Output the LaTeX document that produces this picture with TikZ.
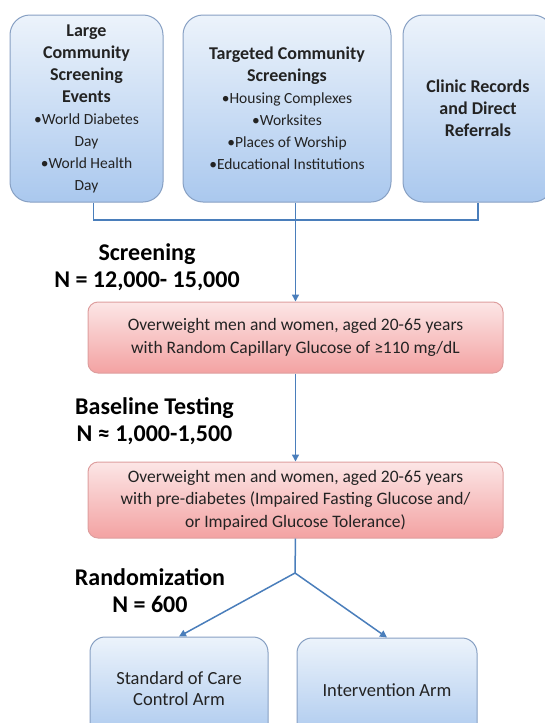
\documentclass[tikz,border=0pt]{standalone}
\usepackage{fontspec}
\setmainfont{Carlito}
\usetikzlibrary{arrows.meta}

\definecolor{blautop}{RGB}{236, 243, 251}
\definecolor{blaubottom}{RGB}{170, 200, 238}
\definecolor{blaurand}{RGB}{135, 160, 195}
\definecolor{rosatop}{RGB}{252, 230, 230}
\definecolor{rosabottom}{RGB}{243, 162, 162}
\definecolor{rosarand}{RGB}{222, 158, 158}
\definecolor{linienblau}{RGB}{74, 126, 187}
\definecolor{textgrau}{RGB}{35, 35, 35}

\tikzset{
	quelle/.style={draw=blaurand, line width=1pt, top color=blautop, bottom color=blaubottom, rounded corners=20pt, align=center, text=textgrau, inner sep=0pt, font=\bfseries\fontsize{18}{22}\selectfont},
	arm/.style={quelle, rounded corners=15pt, font=\mdseries\fontsize{18.5}{21}\selectfont},
	stufe/.style={draw=rosarand, line width=1pt, top color=rosatop, bottom color=rosabottom, rounded corners=10pt, align=center, text=textgrau, inner sep=0pt, minimum width=415pt, font=\fontsize{17.5}{22.5}\selectfont},
	etikett/.style={align=center, text=black, font=\bfseries\fontsize{24}{27}\selectfont},
	verbinder/.style={draw=linienblau, line width=1.5pt},
	pfeil/.style={verbinder, -{Triangle[length=7pt, width=7pt]}}
}

% Aufzaehlungszeile in den Quellen (normal, etwas kleiner)
\newcommand{\punkt}[1]{{\mdseries\fontsize{15.5}{22}\selectfont •#1}}
\newcommand{\weiter}[1]{{\mdseries\fontsize{15.5}{22}\selectfont #1}}

\begin{document}
\begin{tikzpicture}[x=1pt, y=-1pt] % 1 Einheit = 1 Pixel der Vorlage, y zeigt nach unten
		
		% Seitenrahmen
		\useasboundingbox (0,0) rectangle (545,723);
		
		% Die drei Quellen oben
		\node[quelle, minimum width=153pt, minimum height=187pt] (grossevents) at (86.5,108.5) {Large\\Community\\Screening\\Events\\\punkt{World Diabetes}\\\weiter{Day}\\\punkt{World Health}\\\weiter{Day}};
		\node[quelle, minimum width=208pt, minimum height=187pt] (gezielt) at (287,108.5) {Targeted Community\\Screenings\\\punkt{Housing Complexes}\\\punkt{Worksites}\\\punkt{Places of Worship}\\\punkt{Educational Institutions}};
		\node[quelle, minimum width=150pt, minimum height=187pt] (kliniken) at (478,108.5) {Clinic Records\\and Direct\\Referrals};
		
		% Rosa Stufen
		\node[stufe, minimum height=71pt] (screenbox) at (295.5,337.5) {Overweight men and women, aged 20-65 years\\with Random Capillary Glucose of ≥110 mg/dL};
		\node[stufe, minimum height=76pt] (basisbox) at (295.5,500) {Overweight men and women, aged 20-65 years\\with pre-diabetes (Impaired Fasting Glucose and/\\or Impaired Glucose Tolerance)};
		
		% Studienarme unten (laufen unten aus dem Bild)
		\node[arm, minimum width=178pt, minimum height=104pt] (kontrolle) at (179,689) {Standard of Care\\Control Arm};
		\node[arm, minimum width=180pt, minimum height=104pt] (intervention) at (387,690) {Intervention Arm};
		
		% Beschriftung der Stufen
		\node[etikett] (lblscreen) at (147,267.5) {Screening\\N = 12,000- 15,000};
		\node[etikett] (lblbasis) at (154.5,421) {Baseline Testing\\N ≈ 1,000-1,500};
		\node[etikett] (lblrandom) at (150,591) {Randomization\\N = 600};
		
		% Sammelleitung unter den Quellen
		\coordinate (sammel) at (295,220);
		\coordinate (verzweig) at (295,573);
		\draw[verbinder] ([xshift=7pt]grossevents.south) |- (sammel) -| (kliniken.south);
		\draw[pfeil] (gezielt.south -| screenbox.north) -- (screenbox.north);
		\draw[pfeil] (screenbox.south) -- (basisbox.north);
		
		% Verzweigung zur Randomisierung
		\draw[verbinder] (basisbox.south) -- (verzweig);
		\foreach \ziel in {kontrolle, intervention} {
			\draw[pfeil] (verzweig) -- (\ziel.north);
		}
		
	\end{tikzpicture}
\end{document}
